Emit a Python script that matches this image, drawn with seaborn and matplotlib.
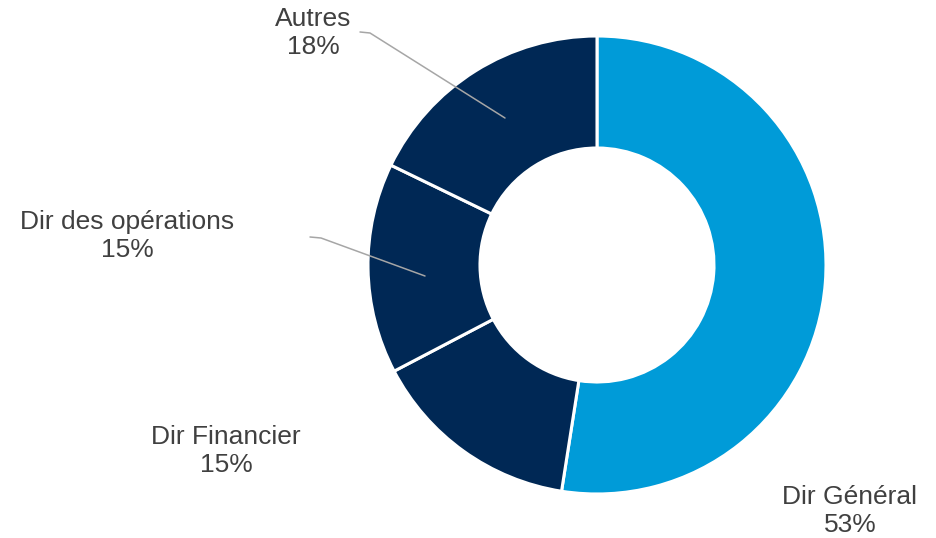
import matplotlib
matplotlib.use("Agg")
import matplotlib.pyplot as plt
import seaborn as sns

# données
labels = ["Dir Général", "Dir Financier", "Dir des opérations", "Autres"]
values = [53, 15, 15, 18]
pct_labels = ["53%", "15%", "15%", "18%"]
colors = ["#009BD8", "#002855", "#002855", "#002855"]

# position des étiquettes (coordonnées en pixels, y vers le haut)
label_xy = [(850, 27), (226, 87), (127, 302), (313, 505)]
# lignes de rappel (None = pas de ligne)
leaders = [None, None,
           [(310, 301), (321, 300), (425, 262)],
           [(360, 506), (370, 505), (505, 420)]]

sns.set_theme(style="white")
plt.rcParams['font.family'] = ['Liberation Sans', 'DejaVu Sans']

fig = plt.figure(figsize=(9.37, 5.38), dpi=100)
ax = fig.add_axes([0, 0, 1, 1])

ax.pie(values, colors=colors, startangle=90, counterclock=False,
       center=(597, 273), radius=229, frame=True,
       wedgeprops=dict(width=112, edgecolor='white', linewidth=2.2))
ax.set_xlim(0, 937)
ax.set_ylim(0, 538)
ax.axis('off')

for lab, pct, (x, y), ld in zip(labels, pct_labels, label_xy, leaders):
    ax.text(x, y, f"{lab}\n{pct}", ha='center', va='center', fontsize=19,
            color='#404040', linespacing=1.22, multialignment='center')
    if ld:
        xs, ys = zip(*ld)
        ax.plot(xs, ys, color='#A6A6A6', linewidth=1.1)

plt.savefig("out.png", dpi=100)
